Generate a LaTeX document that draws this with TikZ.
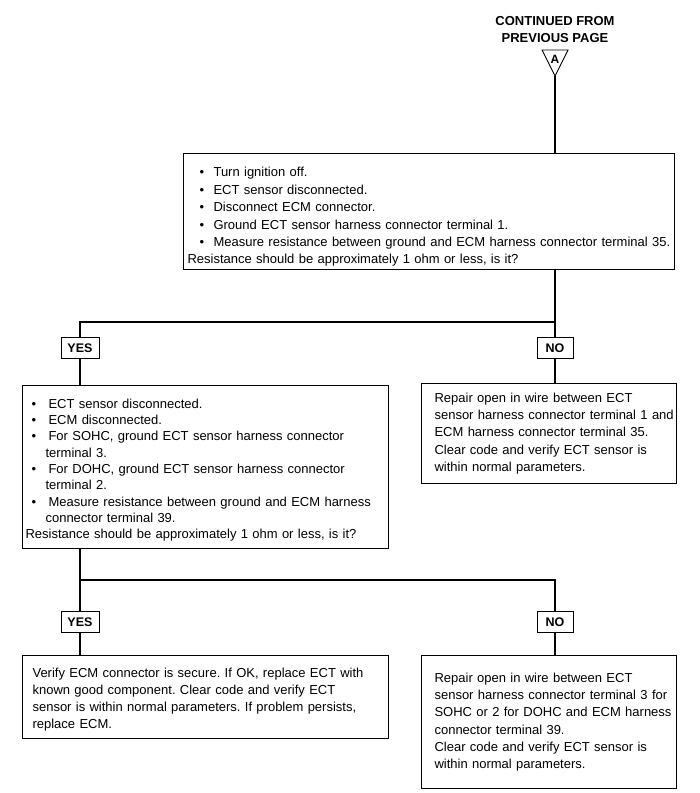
\documentclass[tikz,border=0pt]{standalone}
\usepackage{fontspec}
\setmainfont{Liberation Sans}
\frenchspacing
\newcommand\bodyfont{\fontsize{13}{17.2}\selectfont\frenchspacing}
\newcommand\lblfont{\fontsize{12.5}{14}\selectfont\bfseries}
\newcommand\bitem[3]{\mbox{\hspace*{#1}\makebox[#2][l]{\textbullet}#3}}
\newcommand\pline[1]{\mbox{#1}}
\newcommand\headroom[1]{\rule{0pt}{#1}}
\tikzset{
  box/.style={draw, line width=1.1pt, anchor=north west, align=left, inner ysep=0pt, font=\bodyfont},
  lbl/.style={draw, line width=1pt, font=\lblfont, minimum height=21pt, inner sep=1pt, fill=white},
  link/.style={line width=1.1pt}
}
\begin{document}
\begin{tikzpicture}[x=1pt,y=-1pt]
\useasboundingbox (0,0) rectangle (700,793);

% header
\node[font=\fontsize{13}{17}\selectfont\bfseries, align=center] (hdr) at (555,30) {CONTINUED FROM\\PREVIOUS PAGE};
\draw[line width=0.9pt] (542,50) -- (568,50) -- (555,76) -- cycle;
\coordinate (apex) at (555,76);
\node[font=\fontsize{12}{14}\selectfont\bfseries] (A) at (555,59.5) {A};

% top box
\node[box, font=\fontsize{13}{17.4}\selectfont, inner xsep=4pt, text width=483pt, minimum width=491pt, minimum height=116pt] (top) at (183,153) {%
\bitem{12pt}{14pt}{\headroom{20.5pt}Turn ignition off.}\\
\bitem{12pt}{14pt}{ECT sensor disconnected.}\\
\bitem{12pt}{14pt}{Disconnect ECM connector.}\\
\bitem{12pt}{14pt}{Ground ECT sensor harness connector terminal 1.}\\
\bitem{12pt}{14pt}{Measure resistance between ground and ECM harness connector terminal 35.}\\
\pline{Resistance should be approximately 1 ohm or less, is it?}};

% first decision
\node[lbl, minimum width=38pt] (yes1) at (80,348) {YES};
\node[lbl, minimum width=36pt] (no1) at (555,348) {NO};
\coordinate (j1) at (555,322);

% middle boxes
\node[box, font=\fontsize{13}{16.3}\selectfont, inner xsep=3pt, text width=360pt, minimum width=366pt, minimum height=163pt] (midL) at (22,385) {%
\bitem{6pt}{17pt}{\headroom{15.5pt}ECT sensor disconnected.}\\
\bitem{6pt}{17pt}{ECM disconnected.}\\
\bitem{6pt}{17pt}{For SOHC, ground ECT sensor harness connector}\\
\pline{\hspace*{20pt}terminal 3.}\\
\bitem{6pt}{17pt}{For DOHC, ground ECT sensor harness connector}\\
\pline{\hspace*{20pt}terminal 2.}\\
\bitem{6pt}{17pt}{Measure resistance between ground and ECM harness}\\
\pline{\hspace*{20pt}connector terminal 39.}\\
\pline{Resistance should be approximately 1 ohm or less, is it?}};

\node[box, inner xsep=13pt, text width=229pt, minimum width=255pt, minimum height=100pt] (midR) at (421,383) {%
\pline{Repair open in wire between ECT}\\
\pline{sensor harness connector terminal 1 and}\\
\pline{ECM harness connector terminal 35.}\\
\pline{Clear code and verify ECT sensor is}\\
\pline{within normal parameters.}};

% second decision
\node[lbl, minimum width=38pt] (yes2) at (80,622) {YES};
\node[lbl, minimum width=36pt] (no2) at (555,622) {NO};
\coordinate (j2) at (80,580);

% bottom boxes
\node[box, inner xsep=10pt, text width=346pt, minimum width=366pt, minimum height=83pt] (botL) at (22,655) {%
\pline{\headroom{14.5pt}Verify ECM connector is secure. If OK, replace ECT with}\\
\pline{known good component. Clear code and verify ECT}\\
\pline{sensor is within normal parameters. If problem persists,}\\
\pline{replace ECM.}};

\node[box, inner xsep=13pt, text width=229pt, minimum width=255pt, minimum height=133pt] (botR) at (421,655) {%
\pline{Repair open in wire between ECT}\\
\pline{sensor harness connector terminal 3 for}\\
\pline{SOHC or 2 for DOHC and ECM harness}\\
\pline{connector terminal 39.}\\
\pline{Clear code and verify ECT sensor is}\\
\pline{within normal parameters.}};

% connectors
\draw[link] (apex) -- (top.north -| apex);
\draw[link] (top.south -| no1) -- (no1.north);
\draw[link] (j1) -| (yes1.north);
\draw[link] (yes1.south) -- (midL.north -| yes1);
\draw[link] (no1.south) -- (midR.north -| no1);
\draw[link] (midL.south -| yes2) -- (yes2.north);
\draw[link] (j2) -| (no2.north);
\draw[link] (yes2.south) -- (botL.north -| yes2);
\draw[link] (no2.south) -- (botR.north -| no2);
\end{tikzpicture}
\end{document}
